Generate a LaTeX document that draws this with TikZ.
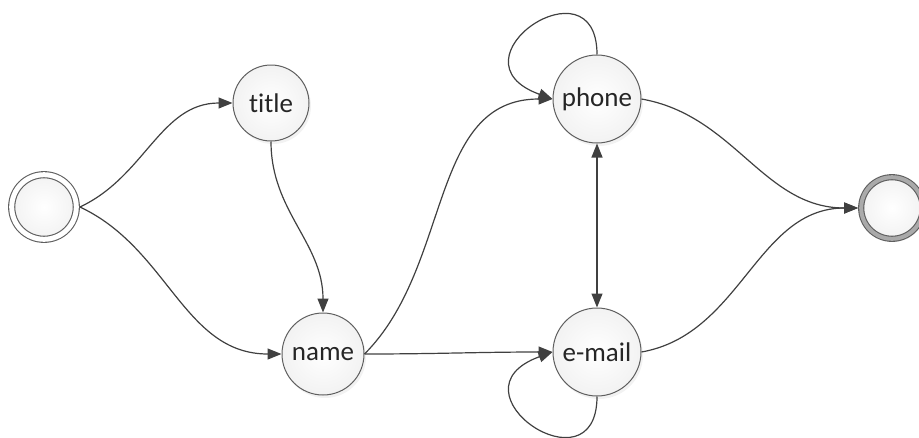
\documentclass[tikz,border=0pt]{standalone}
\usepackage{fontspec}
\setmainfont{Carlito}[Ligatures=NoCommon]
\usetikzlibrary{arrows.meta,shadows,positioning}
\definecolor{myline}{RGB}{64,64,64}
\definecolor{myborder}{RGB}{95,95,95}
\definecolor{mytext}{RGB}{38,38,38}
\definecolor{myring}{RGB}{170,170,170}

\tikzset{
	statenode/.style={circle, draw=myborder, line width=1pt, inner sep=0pt, inner color=white, outer color=gray!10, text=mytext, font=\fontsize{27}{30}\selectfont, drop shadow={opacity=0.1, shadow xshift=2pt, shadow yshift=-3pt}},
	startnode/.style={statenode, double=white, double distance=5pt, line width=1.1pt, outer sep=3.6pt, minimum size=64.6pt},
	endnode/.style={statenode, double=myring, double distance=4pt, line width=1.1pt, outer sep=3.1pt, minimum size=61.6pt},
	trans/.style={draw=myline, line width=1.2pt, -{Triangle[length=14pt,width=11pt]}},
	bitrans/.style={draw=myline, line width=1.2pt, {Triangle[length=14pt,width=11pt]}-{Triangle[length=14pt,width=11pt]}}
}

\begin{document}
\begin{tikzpicture}[x=1pt, y=-1pt]
	\useasboundingbox (0,0) rectangle (919,437);

	\node[startnode] (start) at (44,207) {};
	\node[statenode, minimum size=76pt] (title) at (271,103) {title};
	\node[statenode, minimum size=82pt] (name) at (323,354) {name};
	\node[statenode, minimum size=88pt] (phone) at (597,99) {phone};
	\node[statenode, minimum size=88pt] (email) at (597,352) {e-mail};
	\node[endnode] (final) at (892,208) {};

	\draw[trans] (start.east) to[out=25, in=180] (title.west);
	\draw[trans] (start.east) to[out=-25, in=180] (name.west);
	\draw[trans] (title.south) to[out=-90, in=90] (name.north);

	\draw[trans] (name.east) to[out=45, in=180] (phone.west);
	\draw[trans] (name.east) to[out=0, in=180] (email.west);

	% self loops
	\draw[trans] (phone.north) .. controls +(0,-98) and +(-108,-39) .. (phone.west);
	\draw[trans] (email.south) .. controls +(0,98) and +(-108,39) .. (email.west);

	\draw[bitrans] (phone.south) -- (email.north);

	\draw[trans] (phone.east) to[out=-10, in=180] (final.west);
	\draw[trans] (email.east) to[out=10, in=180] (final.west);
\end{tikzpicture}
\end{document}
